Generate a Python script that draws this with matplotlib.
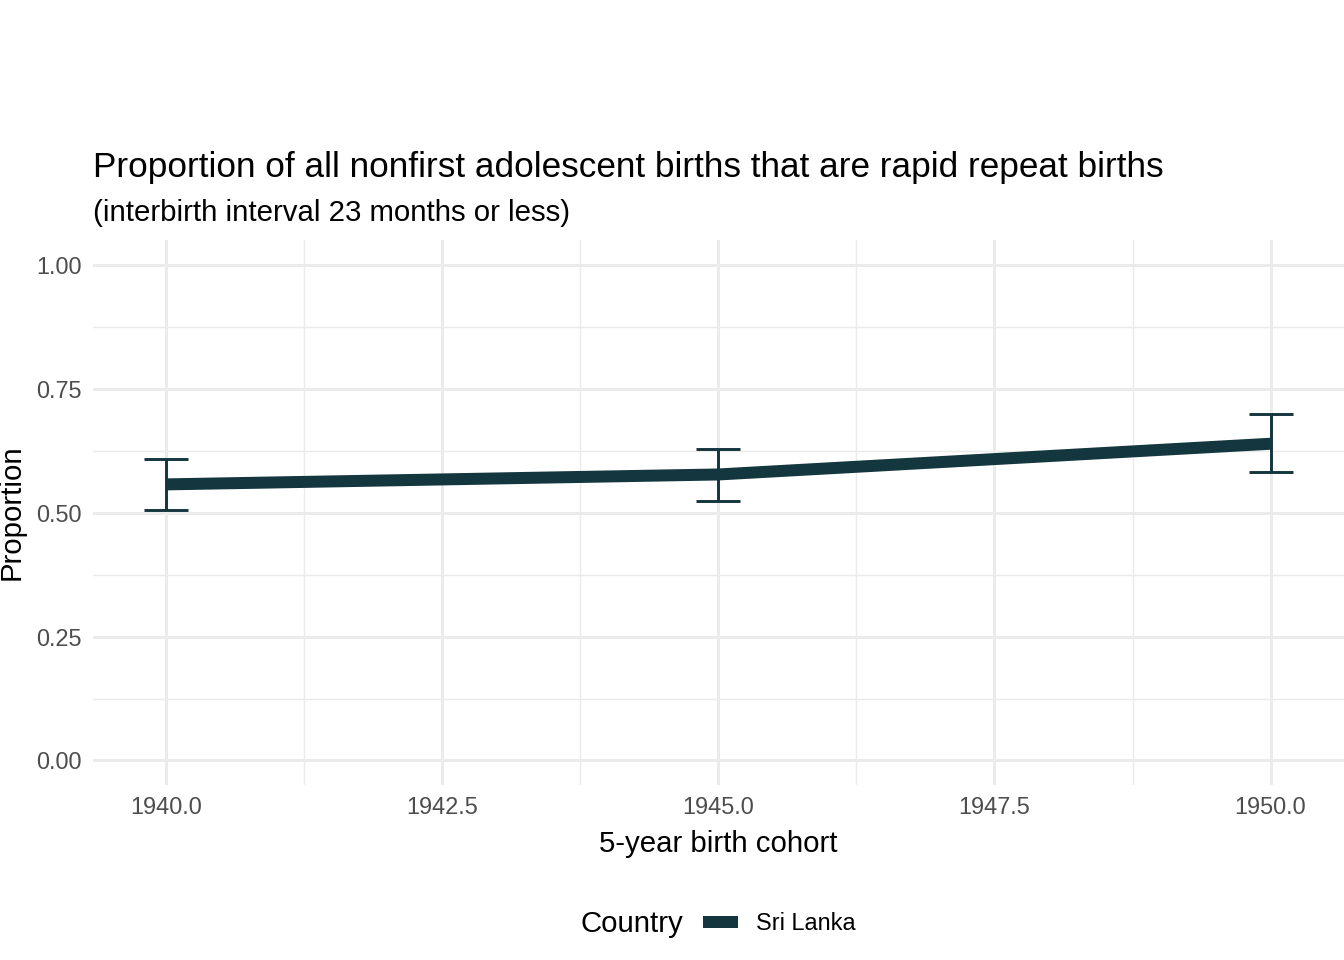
import matplotlib.pyplot as plt
from matplotlib.lines import Line2D
import numpy as np

plt.rcParams.update({
    "font.family": ["Liberation Sans", "DejaVu Sans"],
    "figure.dpi": 192,
})

# data
cohort = [1940, 1945, 1950]
proportion = [0.557, 0.577, 0.639]
lower = [0.505, 0.524, 0.581]
upper = [0.609, 0.629, 0.699]
country = "Sri Lanka"

LINE_COL = "#14363f"
GRID_COL = "#ebebeb"
TEXT_COL = "#4d4d4d"

fig = plt.figure(figsize=(7, 5), dpi=192)
ax = fig.add_axes([0.069, 0.182, 0.931, 0.568])

# gridlines (theme_minimal look)
xmaj = np.arange(1940, 1950.1, 2.5)
xmin = xmaj[:-1] + 1.25
ymaj = np.arange(0, 1.01, 0.25)
ymin = ymaj[:-1] + 0.125
for v in xmin:
    ax.axvline(v, color=GRID_COL, lw=0.55, zorder=0)
for v in ymin:
    ax.axhline(v, color=GRID_COL, lw=0.55, zorder=0)
for v in xmaj:
    ax.axvline(v, color=GRID_COL, lw=1.1, zorder=0)
for v in ymaj:
    ax.axhline(v, color=GRID_COL, lw=1.1, zorder=0)

ax.plot(cohort, proportion, color=LINE_COL, lw=4.5, solid_capstyle="butt", zorder=3)
yerr = [np.array(proportion) - np.array(lower), np.array(upper) - np.array(proportion)]
ax.errorbar(cohort, proportion, yerr=yerr, fmt="none", ecolor=LINE_COL,
            elinewidth=1.1, capsize=8.3, capthick=1.1, zorder=4)

ax.set_xlim(1939.335, 1950.665)
ax.set_ylim(-0.05, 1.05)
ax.set_xticks(xmaj)
ax.set_xticklabels([f"{v:.1f}" for v in xmaj])
ax.set_yticks(ymaj)
ax.set_yticklabels([f"{v:.2f}" for v in ymaj])
ax.tick_params(length=0, labelsize=8.8, labelcolor=TEXT_COL, pad=4)
for s in ax.spines.values():
    s.set_visible(False)

ax.set_xlabel("5-year birth cohort", fontsize=11, labelpad=4)
ax.set_ylabel("Proportion", fontsize=11, labelpad=4)

fig.text(0.069, 0.826, "Proportion of all nonfirst adolescent births that are rapid repeat births",
         fontsize=13.2, ha="left", va="center")
fig.text(0.069, 0.778, "(interbirth interval 23 months or less)",
         fontsize=11, ha="left", va="center")

# legend at the bottom: title on the left, one entry
handle = Line2D([], [], color=LINE_COL, lw=4.5, solid_capstyle="butt")
fig.text(0.508, 0.038, "Country", fontsize=11, ha="right", va="center")
fig.legend([handle], [country], loc="center left",
           bbox_to_anchor=(0.523, 0.038), frameon=False, fontsize=8.8,
           handlelength=1.5, handletextpad=0.75, borderpad=0, borderaxespad=0)

fig.savefig("out.png", dpi=192)
